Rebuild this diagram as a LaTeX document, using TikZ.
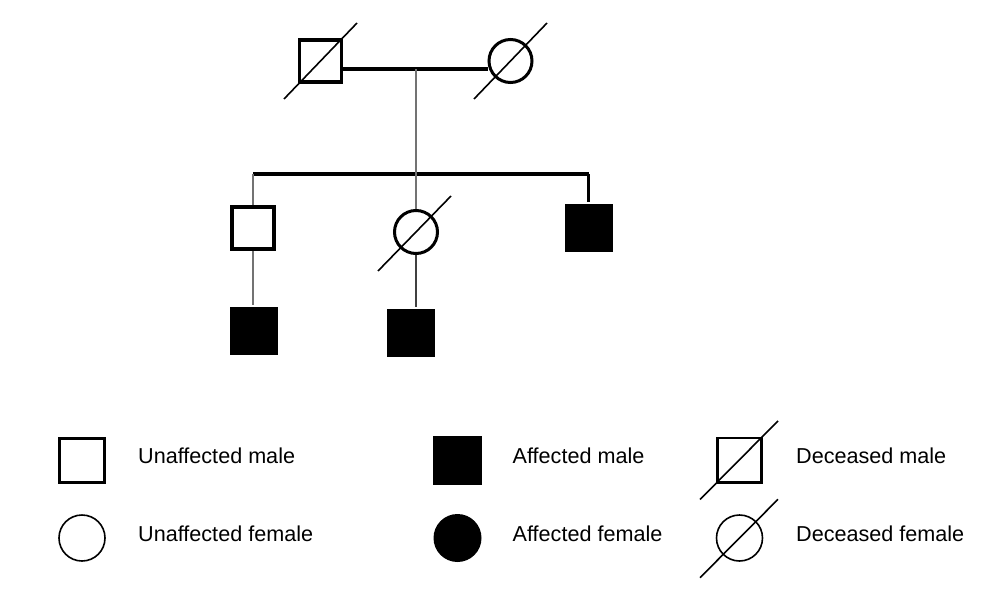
\documentclass[tikz,border=0pt]{standalone}
\usepackage{fontspec}
\setmainfont{Liberation Sans}
\usepackage{tikz}

\begin{document}
\begin{tikzpicture}[x=1pt,y=-1pt]
\tikzset{
  every node/.style={inner sep=0pt},
  male/.style={draw, line width=3.8pt, minimum size=42pt},
  female/.style={circle, draw, line width=3pt, minimum size=43pt},
  affected/.style={draw=none, fill=black, minimum size=48pt},
  keymale/.style={draw, line width=2.6pt, minimum size=44.5pt},
  keyfemale/.style={circle, draw, line width=1.6pt, minimum size=46pt},
  keyaffmale/.style={fill=black, minimum size=48.5pt},
  keyafffemale/.style={circle, fill=black, minimum size=48pt},
  keytext/.style={anchor=base west, font=\fontsize{21.6}{26}\selectfont},
  mateline/.style={line width=3.4pt},
  kinline/.style={line width=1.6pt, black!55},
  dead/.style={line width=1.6pt}
}
\useasboundingbox (0,0) rectangle (1004,589);
% parents
\node [male] (father) at (320.5,61) {};
\node [female] (mother) at (510.5,61) {};
\draw [dead] ([shift={(-36.5,38)}]father.center) -- ([shift={(36.5,-38)}]father.center);
\draw [dead] ([shift={(-36.5,38)}]mother.center) -- ([shift={(36.5,-38)}]mother.center);
\coordinate (mate) at (416,69);
\draw [mateline] (father.east |- mate) -- (mother.west |- mate);
% children
\node [male] (son) at (253,228) {};
\node [female] (daughter) at (416,232) {};
\node [male,affected] (sonb) at (588.5,228) {};
\draw [dead] ([shift={(-38,39)}]daughter.center) -- ([shift={(35,-36)}]daughter.center);
\coordinate (sibs) at (416,174);
\draw [mateline] (son |- sibs) -- (sonb |- sibs);
\draw [kinline] (mate) -- (daughter.north);
\draw [kinline] (son |- sibs) -- (son.north);
\draw [line width=2.2pt] (sonb |- sibs) -- (sonb.north);
% grandchildren
\node [male,affected] (gsona) at (253.5,330.5) {};
\node [male,affected] (gsonb) at (411,332.5) {};
\draw [kinline] (son.south) -- (gsona.north -| son.south);
\draw [kinline, black!75] (daughter.south) -- (gsonb.north -| daughter.south);
% key
\node [keymale] (kum) at (82,460.5) {};
\node [keyfemale] (kuf) at (82,538) {};
\node [keyaffmale] (kam) at (457.5,460.5) {};
\node [keyafffemale] (kaf) at (457.5,538) {};
\node [keymale] (kdm) at (739.5,460.2) {};
\node [keyfemale] (kdf) at (739.5,538) {};
\draw [dead] ([shift={(-39.5,39.3)}]kdm.center) -- ([shift={(38.5,-39.3)}]kdm.center);
\draw [dead] ([shift={(-39.5,39.7)}]kdf.center) -- ([shift={(38.5,-38.7)}]kdf.center);
\node [keytext] (tum) at (138,463) {Unaffected male};
\node [keytext] (tuf) at (138,541.5) {Unaffected female};
\node [keytext] (tam) at (512.5,463) {Affected male};
\node [keytext] (taf) at (512.5,541.5) {Affected female};
\node [keytext] (tdm) at (796,463) {Deceased male};
\node [keytext] (tdf) at (796,541.5) {Deceased female};
\end{tikzpicture}
\end{document}
